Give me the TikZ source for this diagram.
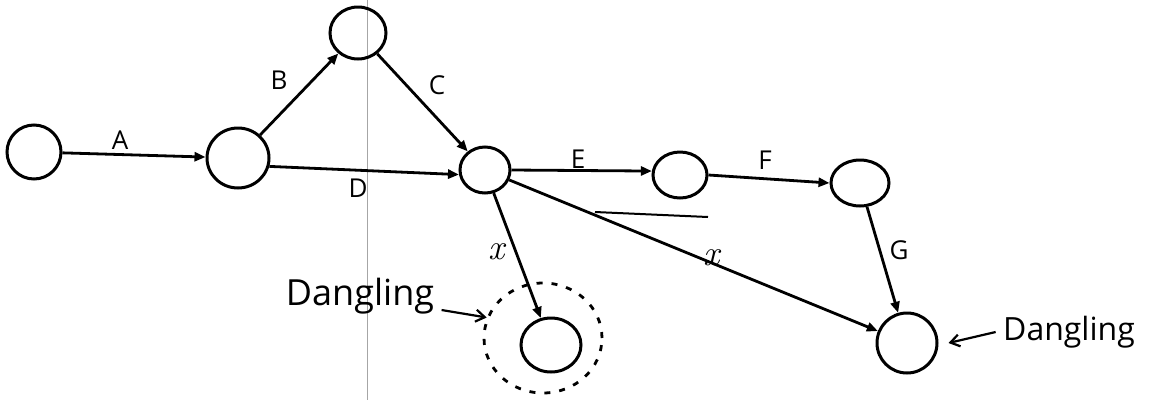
\documentclass[tikz,border=0pt]{standalone}
\usepackage{fontspec}
\setmainfont{Open Sans}
\newfontfamily\xfont{Latin Modern Roman}
\usetikzlibrary{shapes.geometric,arrows.meta}
\tikzset{
  ev/.style={draw, ellipse, line width=3pt, inner sep=0pt},
  act/.style={line width=2.8pt, -{Triangle[length=11pt,width=9pt]}},
  lbl/.style={font=\fontsize{26}{28}\selectfont},
  note/.style={font=\fontsize{36}{40}\selectfont},
  pointer/.style={line width=2.2pt, -{Straight Barb[length=9pt,width=12pt]}}
}
\begin{document}
\begin{tikzpicture}[x=1pt,y=-1pt]
\useasboundingbox (0,0) rectangle (1149,400);
\fill[white] (0,0) rectangle (1149,400);
% scan fold line
\draw[gray!70, line width=0.7pt] (367,0) -- (367,400);
% events
\node[ev, minimum width=54pt, minimum height=54pt] (n1) at (34,152) {};
\node[ev, minimum width=62pt, minimum height=60pt] (n2) at (238,158) {};
\node[ev, minimum width=56pt, minimum height=52pt] (n3) at (358,33) {};
\node[ev, minimum width=50pt, minimum height=46pt] (n4) at (485,170) {};
\node[ev, minimum width=54pt, minimum height=46pt] (n5) at (680,175) {};
\node[ev, minimum width=58pt, minimum height=46pt] (n6) at (860,183) {};
\node[ev, minimum width=60pt, minimum height=60pt] (n7) at (907,343) {};
\node[ev, minimum width=60pt, minimum height=54pt] (n8) at (551,345) {};
\node[draw, ellipse, dashed, dash pattern=on 6pt off 9pt, line width=2.8pt,
      minimum width=118pt, minimum height=110pt] (ring) at (543,338) {};
% activities
\draw[act] (n1) -- (n2);
\draw[act] (n2) -- (n3);
\draw[act] (n3) -- (n4);
\draw[act] (n2.345) -- (n4.190);
\draw[act] (n4.east) -- (n5.172);
\draw[act] (n5.east) -- (n6.west);
\draw[act] (n6) -- (n7);
\draw[act] (n4) -- (n8);
\draw[act] (n4) -- (n7);
% labels
\node[lbl] (lA) at (120,140) {A};
\node[lbl] (lB) at (279,80) {B};
\node[lbl] (lC) at (437,85) {C};
\node[lbl] (lD) at (358,188) {D};
\node[lbl] (lE) at (578,159) {E};
\node[lbl] (lF) at (765,160) {F};
\node[lbl] (lG) at (899,250) {G};
\node[lbl] (lx1) at (497,252) {\xfont\itshape\fontsize{36}{38}\selectfont x};
\node[lbl] (lx2) at (712,258) {\xfont\itshape\fontsize{36}{38}\selectfont x};
% stray underline
\coordinate (u1) at (595,212);
\coordinate (u2) at (708,217);
\draw[line width=2pt] (u1) -- (u2);
% dangling notes
\node[note] (d1) at (360,296) {Dangling};
\node[note, font=\fontsize{32}{36}\selectfont] (d2) at (1069,332) {Dangling};
\draw[pointer] (d1.east) ++(4,14) coordinate (p1) -- (ring.160);
\draw[pointer] (d2.west) ++(-4,0) coordinate (p2) -- ([xshift=10pt]n7.east);
\end{tikzpicture}
\end{document}
